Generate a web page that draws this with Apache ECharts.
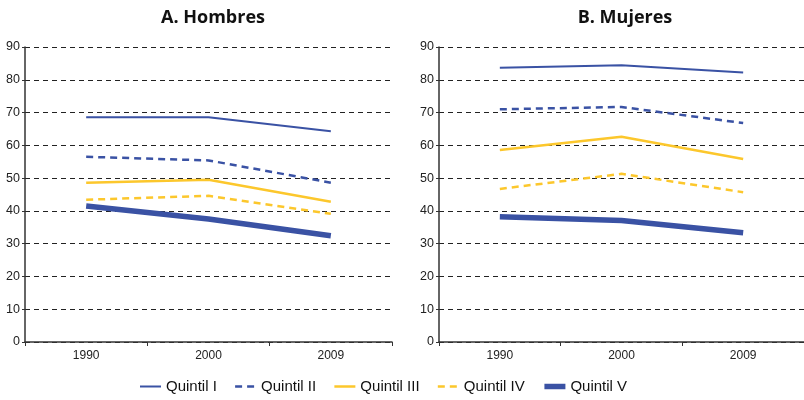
<!DOCTYPE html>
<html><head><meta charset="utf-8">
<script src="https://cdn.jsdelivr.net/npm/echarts@6/dist/echarts.min.js"></script>
<style>html,body{margin:0;padding:0;background:#fff}#c{width:804px;height:400px}</style>
</head><body><div id="c"></div>
<script>
const years = ['1990','2000','2009'];
const seriesNames = ['Quintil I','Quintil II','Quintil III','Quintil IV','Quintil V'];
const hombres = {
  'Quintil I':   [68.6, 68.6, 64.3],
  'Quintil II':  [56.5, 55.4, 48.6],
  'Quintil III': [48.6, 49.5, 42.8],
  'Quintil IV':  [43.4, 44.6, 39.1],
  'Quintil V':   [41.5, 37.5, 32.4]
};
const mujeres = {
  'Quintil I':   [83.7, 84.4, 82.2],
  'Quintil II':  [71.0, 71.7, 66.8],
  'Quintil III': [58.6, 62.6, 55.8],
  'Quintil IV':  [46.7, 51.3, 45.7],
  'Quintil V':   [38.2, 37.1, 33.3]
};
const titles = ['A. Hombres','B. Mujeres'];
const BLUE = '#3a52a4', YELLOW = '#fcc72c';
const styles = {
  'Quintil I':   {color: BLUE, width: 2, type: 'solid'},
  'Quintil II':  {color: BLUE, width: 2.5, type: [7,5]},
  'Quintil III': {color: YELLOW, width: 2.5, type: 'solid'},
  'Quintil IV':  {color: YELLOW, width: 2.5, type: [7,5]},
  'Quintil V':   {color: BLUE, width: 5.5, type: 'solid'}
};
const font = 'Liberation Sans, Arial, sans-serif';
const grids = [
  {left: 25, right: 412, top: 47, bottom: 58},
  {left: 439, right: 0, top: 47, bottom: 58}
];
const xAxes = grids.map((g,i)=>({
  type:'category', gridIndex:i, data: years, boundaryGap:true,
  axisLine:{lineStyle:{color:'#333', width:1.5}},
  axisTick:{show:true, length:4, lineStyle:{color:'#333'}},
  axisLabel:{color:'#222', fontSize:12, fontFamily:font, margin:8}
}));
const yAxes = grids.map((g,i)=>({
  type:'value', gridIndex:i, min:0, max:90, interval:10,
  axisLine:{show:true, lineStyle:{color:'#333', width:1.5}},
  axisTick:{show:true, length:3, lineStyle:{color:'#333'}},
  axisLabel:{color:'#222', fontSize:12.5, fontFamily:font, margin:5},
  splitLine:{show:true, lineStyle:{color:'#222', type:[5,4], width:1}}
}));
const series = [];
[hombres, mujeres].forEach((d,i)=>{
  seriesNames.forEach(n=>{
    const s = styles[n];
    series.push({
      name:n, type:'line', xAxisIndex:i, yAxisIndex:i, data:d[n],
      symbol:'circle', symbolSize:0, showSymbol:false, silent:true,
      lineStyle:{color:s.color, width:s.width, type:s.type, cap:'butt'},
      itemStyle:{color:s.color}, z: n==='Quintil V'?1:2
    });
  });
});
const legendData = seriesNames.map(n=>({
  name:n,
  lineStyle:{width: n==='Quintil V' ? 5.5 : (n==='Quintil I' ? 2 : 2.5), type: styles[n].type, color: styles[n].color}
}));
const chart = echarts.init(document.getElementById('c'), null, {renderer:'canvas'});
chart.setOption({
  animation:false,
  title: [
    {text:titles[0], left:208, top:4, textAlign:'center', textStyle:{fontSize:18, fontWeight:'bold', color:'#111', fontFamily:'Open Sans, sans-serif'}},
    {text:titles[1], left:620, top:4, textAlign:'center', textStyle:{fontSize:18, fontWeight:'bold', color:'#111', fontFamily:'Open Sans, sans-serif'}}
  ],
  legend:{
    data: legendData, bottom: 1, left: 134, itemWidth:21, itemHeight:10, itemGap:17,
    itemStyle:{opacity:0},
    textStyle:{fontSize:15, color:'#111', fontFamily:font}
  },
  grid: grids, xAxis: xAxes, yAxis: yAxes, series: series
});
</script></body></html>
